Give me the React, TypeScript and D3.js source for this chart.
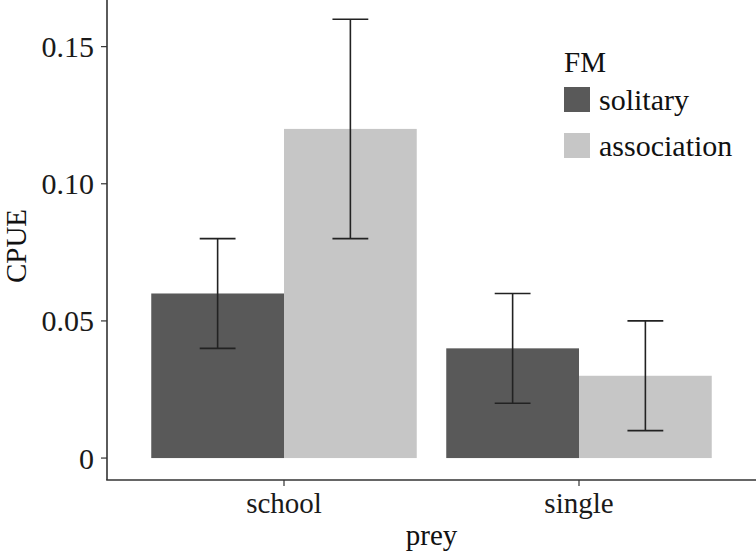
import React from "react";
import * as d3 from "d3";

const preyCategories = ["school", "single"];
const fmGroups = ["solitary", "association"];
const cpueMean = [
  [0.06, 0.12],
  [0.04, 0.03],
];
const cpueLow = [
  [0.04, 0.08],
  [0.02, 0.01],
];
const cpueHigh = [
  [0.08, 0.16],
  [0.06, 0.05],
];
const yTicks = [0, 0.05, 0.1, 0.15];
const yTickLabels = ["0", "0.05", "0.10", "0.15"];

const W = 756;
const H = 553;
const FONT = "'Liberation Serif', 'DejaVu Serif', serif";
const fill: Record<string, string> = {
  solitary: "#595959",
  association: "#c6c6c6",
};

export default function App() {
  const margin = { top: 0, right: 0, bottom: 73, left: 107 };
  const innerH = H - margin.top - margin.bottom;
  const innerW = W - margin.left - margin.right;

  // discrete axis with 0.6 unit expansion each side, like ggplot
  const unit = innerW / 2.2;
  const xCenter = (i: number) => margin.left + unit * (0.6 + i);
  const x1 = d3
    .scaleBand<string>()
    .domain(fmGroups)
    .range([-unit * 0.45, unit * 0.45])
    .padding(0);

  const y = d3
    .scaleLinear()
    .domain([-0.008, 0.167])
    .range([margin.top + innerH, margin.top]);

  const capHalf = x1.bandwidth() * 0.135;
  const axisColor = "#333";

  return (
    <svg
      width={W}
      height={H}
      style={{ position: "absolute", left: 0, top: 0, background: "#fff" }}
      fontFamily={FONT}
    >
      {preyCategories.map((cat, i) => (
        <g key={cat} transform={`translate(${xCenter(i)},0)`}>
          {fmGroups.map((g, j) => (
            <rect
              key={g}
              x={x1(g)}
              y={y(cpueMean[i][j])}
              width={x1.bandwidth()}
              height={y(0) - y(cpueMean[i][j])}
              fill={fill[g]}
            />
          ))}
          {fmGroups.map((g, j) => {
            const cx = (x1(g) as number) + x1.bandwidth() / 2;
            return (
              <g key={g} stroke="#222" strokeWidth={1.6} fill="none">
                <line x1={cx} x2={cx} y1={y(cpueLow[i][j])} y2={y(cpueHigh[i][j])} />
                <line x1={cx - capHalf} x2={cx + capHalf} y1={y(cpueLow[i][j])} y2={y(cpueLow[i][j])} />
                <line x1={cx - capHalf} x2={cx + capHalf} y1={y(cpueHigh[i][j])} y2={y(cpueHigh[i][j])} />
              </g>
            );
          })}
        </g>
      ))}

      {/* y axis */}
      <line
        x1={margin.left}
        x2={margin.left}
        y1={margin.top}
        y2={margin.top + innerH}
        stroke={axisColor}
        strokeWidth={1.6}
      />
      {yTicks.map((t, k) => (
        <g key={t}>
          <line x1={margin.left - 6} x2={margin.left} y1={y(t)} y2={y(t)} stroke={axisColor} strokeWidth={1.2} />
          <text
            x={margin.left - 13}
            y={y(t)}
            textAnchor="end"
            dominantBaseline="central"
            fontSize={30}
            fill="#1a1a1a"
          >
            {yTickLabels[k]}
          </text>
        </g>
      ))}

      {/* x axis */}
      <line
        x1={margin.left - 0.8}
        x2={W}
        y1={margin.top + innerH}
        y2={margin.top + innerH}
        stroke={axisColor}
        strokeWidth={1.6}
      />
      {preyCategories.map((cat, i) => (
        <g key={cat}>
          <line
            x1={xCenter(i)}
            x2={xCenter(i)}
            y1={margin.top + innerH}
            y2={margin.top + innerH + 6}
            stroke={axisColor}
            strokeWidth={1.2}
          />
          <text x={xCenter(i)} y={margin.top + innerH + 33} textAnchor="middle" fontSize={29} fill="#1a1a1a">
            {cat}
          </text>
        </g>
      ))}

      {/* axis titles */}
      <text x={margin.left + innerW / 2} y={H - 8} textAnchor="middle" fontSize={29} fill="#111">
        prey
      </text>
      <text
        transform={`translate(${26},${246}) rotate(-90)`}
        textAnchor="middle"
        fontSize={29}
        fill="#111"
      >
        CPUE
      </text>

      {/* legend */}
      <g transform="translate(564,0)">
        <text x={0} y={72} fontSize={29} fill="#111">
          FM
        </text>
        {fmGroups.map((g, j) => (
          <g key={g} transform={`translate(0,${87 + j * 46})`}>
            <rect x={0} y={0} width={26} height={25} fill={fill[g]} />
            <text x={35} y={12.5} dominantBaseline="central" fontSize={30} fill="#111">
              {g}
            </text>
          </g>
        ))}
      </g>
    </svg>
  );
}
